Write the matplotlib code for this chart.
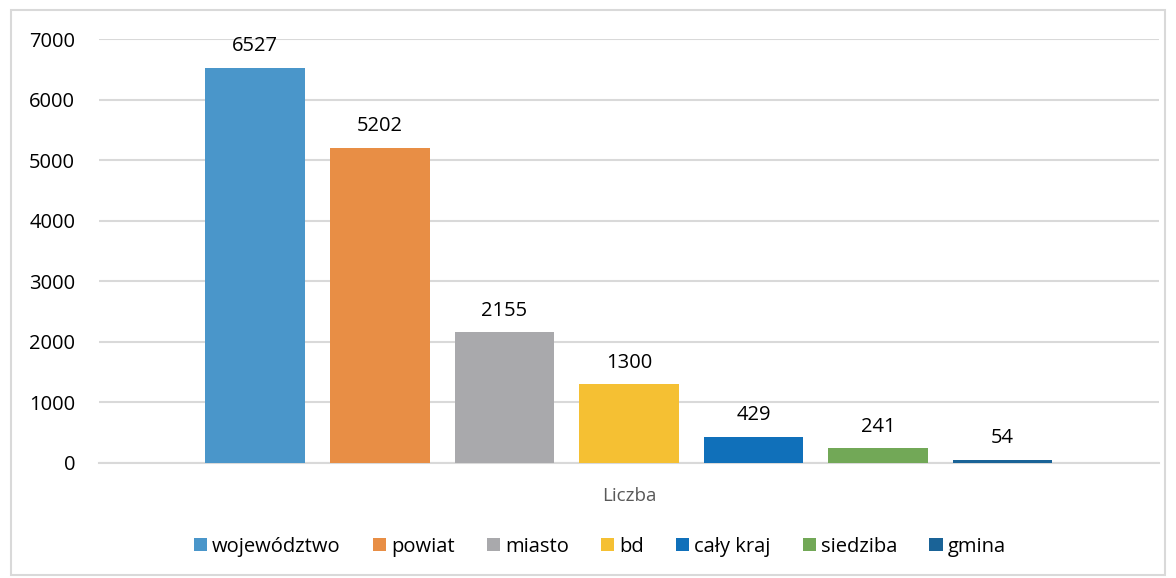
import matplotlib.pyplot as plt
from matplotlib.patches import Rectangle

plt.rcParams['font.family'] = ['Open Sans', 'DejaVu Sans']

labels = ['województwo', 'powiat', 'miasto', 'bd', 'cały kraj', 'siedziba', 'gmina']
values = [6527, 5202, 2155, 1300, 429, 241, 54]
colors = ['#4A96CA', '#E88E45', '#A9A9AC', '#F5C033', '#1070BA', '#72A857', '#1A6397']
yticks = [0, 1000, 2000, 3000, 4000, 5000, 6000, 7000]

fig = plt.figure(figsize=(11.76, 5.78), dpi=100)
fig.patches.append(Rectangle((0.009, 0.005), 0.982, 0.978, transform=fig.transFigure,
                             fill=False, edgecolor='#D9D9D9', linewidth=1.5))
ax = fig.add_axes([0.084, 0.199, 0.9015, 0.7335])

bars = []
for i, (lab, v, c) in enumerate(zip(labels, values, colors)):
    b = ax.bar(i, v, width=0.8, color=c, label=lab, zorder=3)
    bars.append(b)
    ax.text(i, v + 190, str(v), ha='center', va='bottom', fontsize=14.5, color='#000000')

ax.set_ylim(0, 7000)
ax.set_xlim(-1.257, 7.257)
ax.set_yticks(yticks)
ax.set_yticklabels([str(t) for t in yticks], fontsize=14.5)
ax.yaxis.grid(True, color='#D9D9D9', linewidth=1.5, zorder=0)
ax.set_axisbelow(True)
ax.tick_params(axis='y', length=0, pad=17)
ax.set_xticks([3])
ax.set_xticklabels(['Liczba'], fontsize=13.5, color='#595959')
ax.tick_params(axis='x', length=0, pad=17)
for s in ['top', 'right', 'left']:
    ax.spines[s].set_visible(False)
ax.spines['bottom'].set_color('#D9D9D9')
ax.spines['bottom'].set_linewidth(1.5)

fig.legend(handles=[b[0] for b in bars], labels=labels, loc='center', bbox_to_anchor=(0.51, 0.054),
           ncol=7, frameon=False, fontsize=14.5, handlelength=0.65, handleheight=0.65,
           handletextpad=0.25, columnspacing=1.6)

fig.savefig('out.png', dpi=100)
